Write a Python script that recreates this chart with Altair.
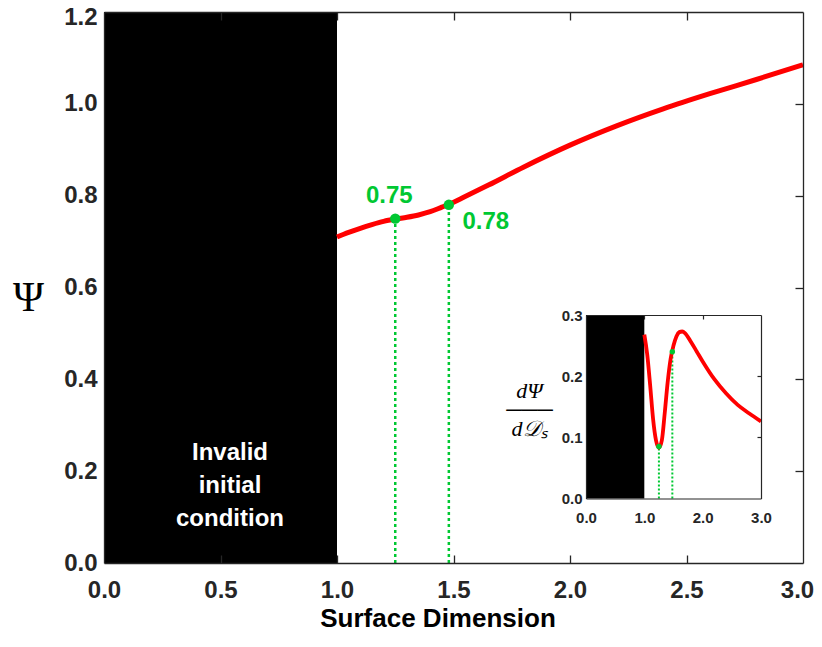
import altair as alt
import pandas as pd

# ---------------- data ----------------
psi_x = [1.00, 1.05, 1.10, 1.15, 1.20, 1.25, 1.30, 1.35, 1.40, 1.45, 1.48, 1.55, 1.65,
         1.80, 2.00, 2.20, 2.40, 2.60, 2.80, 3.00]
psi_y = [0.710, 0.720, 0.729, 0.737, 0.744, 0.749, 0.753, 0.758, 0.765, 0.775, 0.781,
         0.798, 0.823, 0.862, 0.910, 0.952, 0.989, 1.022, 1.053, 1.085]

dpsi_x = [1.00, 1.05, 1.10, 1.15, 1.20, 1.25, 1.30, 1.35, 1.40, 1.45, 1.50, 1.55, 1.60,
          1.65, 1.70, 1.80, 1.90, 2.00, 2.20, 2.40, 2.60, 2.80, 3.00]
dpsi_y = [0.268, 0.235, 0.185, 0.130, 0.095, 0.083, 0.095, 0.140, 0.190, 0.228, 0.250,
          0.265, 0.272, 0.273, 0.270, 0.256, 0.240, 0.224, 0.195, 0.172, 0.153, 0.139, 0.126]

mark_x = [1.25, 1.48]
mark_psi = [0.75, 0.78]
mark_dpsi = [0.085, 0.24]
mark_labels = ["0.75", "0.78"]

invalid_x = [0.0, 1.0]
invalid_text = "Invalid\ninitial\ncondition"

main_ticks_x = [0.0, 0.5, 1.0, 1.5, 2.0, 2.5, 3.0]
main_ticks_y = [0.0, 0.2, 0.4, 0.6, 0.8, 1.0, 1.2]
inset_ticks_x = [0.0, 1.0, 2.0, 3.0]
inset_ticks_y = [0.0, 0.1, 0.2, 0.3]

# ---------------- layout / style ----------------
W, H = 699, 551
TOP = 4
INS_X_RANGE = [482, 657]
INS_Y_RANGE = [486.5, 303]
FONT = "Liberation Sans"
DARK = "#262626"
GREEN = "#00c832"
RED = "#ff0000"

curve = pd.DataFrame({"x": psi_x, "y": psi_y})
dcurve = pd.DataFrame({"x": dpsi_x, "y": dpsi_y})
marks = pd.DataFrame({"x": mark_x, "y": mark_psi, "yd": mark_dpsi, "zero": [0.0, 0.0],
                      "label": mark_labels})
invalid_main = pd.DataFrame({"x0": [invalid_x[0]], "x1": [invalid_x[1]],
                             "y0": [main_ticks_y[0]], "y1": [main_ticks_y[-1]],
                             "xm": [sum(invalid_x) / 2], "t": [invalid_text]})
invalid_inset = pd.DataFrame({"x0": [invalid_x[0]], "x1": [invalid_x[1]],
                              "y0": [inset_ticks_y[0]], "y1": [inset_ticks_y[-1]]})
frame_main = pd.DataFrame({"x": [main_ticks_x[0], main_ticks_x[-1]],
                           "y": [main_ticks_y[0], main_ticks_y[-1]]})
frame_inset = pd.DataFrame({"x": [inset_ticks_x[0], inset_ticks_x[-1]],
                            "y": [inset_ticks_y[0], inset_ticks_y[-1]]})

mx = alt.Scale(domain=[main_ticks_x[0], main_ticks_x[-1]], nice=False, zero=False)
my = alt.Scale(domain=[main_ticks_y[0], main_ticks_y[-1]], nice=False, zero=False)
ix = alt.Scale(domain=[inset_ticks_x[0], inset_ticks_x[-1]], range=INS_X_RANGE, nice=False, zero=False)
iy = alt.Scale(domain=[inset_ticks_y[0], inset_ticks_y[-1]], range=INS_Y_RANGE, nice=False, zero=False)

ax_main_x = alt.Axis(orient="bottom", values=main_ticks_x, format=".1f", grid=False,
                     ticks=False, tickSize=0, domainColor=DARK, domainWidth=1.3,
                     labelFont=FONT, labelFontSize=24, labelFontWeight="bold",
                     labelColor=DARK, labelPadding=15, labelFlush=False, labelOverlap=False,
                     labelOffset={"condition": {"test": "datum.value >= 2.99", "value": -6},
                                  "value": 0},
                     title="Surface Dimension", titleFont=FONT, titleFontSize=26,
                     titleFontWeight="bold", titleColor="black", titleX=333.5, titleY=55,
                     titleAlign="center", titleBaseline="middle", zindex=1)
ax_main_y = alt.Axis(orient="left", values=main_ticks_y, format=".1f", grid=False,
                     ticks=False, tickSize=0, domainColor=DARK, domainWidth=1.3,
                     labelFont=FONT, labelFontSize=24, labelFontWeight="bold",
                     labelColor=DARK, labelPadding=7, labelFlush=False, labelOverlap=False,
                     labelOffset={"condition": {"test": "datum.value >= 1.19", "value": 5},
                                  "value": 0},
                     title="Ψ", titleFont="Liberation Serif", titleFontSize=42,
                     titleFontWeight="normal", titleColor="black", titleAngle=0,
                     titleX=-76, titleY=285, titleAlign="center", titleBaseline="middle",
                     zindex=1)


def MX(f):
    return alt.X(f, type="quantitative", scale=mx, axis=ax_main_x)


def MY(f):
    return alt.Y(f, type="quantitative", scale=my, axis=ax_main_y)


# ---------------- main panel ----------------
m_rect = alt.Chart(invalid_main).mark_rect(color="black").encode(
    x=MX("x0"), x2="x1", y=MY("y0"), y2="y1")
m_text = alt.Chart(invalid_main).mark_text(
    color="white", font=FONT, fontSize=24, fontWeight="bold", lineBreak="\n",
    lineHeight=33, align="center", baseline="middle", dx=9.5
).encode(x=MX("xm"), y=alt.value(441), text="t:N")
m_rules = alt.Chart(marks).mark_rule(color=GREEN, strokeWidth=2.5, strokeDash=[3, 3]).encode(
    x=MX("x"), y=MY("zero"), y2="y")
m_line = alt.Chart(curve).mark_line(color=RED, strokeWidth=5, interpolate="monotone").encode(
    x=MX("x"), y=MY("y"))
m_pts = alt.Chart(marks).mark_circle(color=GREEN, opacity=1, size=110).encode(
    x=MX("x"), y=MY("y"))
m_lab1 = alt.Chart(marks).transform_filter(alt.datum.label == mark_labels[0]).mark_text(
    color=GREEN, font=FONT, fontSize=24, fontWeight="bold", dx=-6, dy=-23
).encode(x=MX("x"), y=MY("y"), text="label:N")
m_lab2 = alt.Chart(marks).transform_filter(alt.datum.label == mark_labels[1]).mark_text(
    color=GREEN, font=FONT, fontSize=24, fontWeight="bold", dx=37, dy=17
).encode(x=MX("x"), y=MY("y"), text="label:N")
main_layer = alt.layer(m_rect, m_text, m_rules, m_line, m_pts, m_lab1, m_lab2)

# main frame: top & right edges with inward ticks
frame_b = alt.Chart(frame_main).mark_point(opacity=0).encode(
    x=alt.X("x:Q", scale=mx, axis=alt.Axis(orient="bottom", offset=-H, labels=False,
            values=main_ticks_x[1:-1], tickSize=8, tickColor=DARK, tickWidth=1.3,
            domainColor=DARK, domainWidth=1.3, grid=False, title=None, zindex=1)),
    y=alt.Y("y:Q", scale=my, axis=alt.Axis(orient="left", offset=-W, labels=False,
            values=main_ticks_y[1:-1], tickSize=8, tickColor=DARK, tickWidth=1.3,
            domainColor=DARK, domainWidth=1.3, grid=False, title=None, zindex=1)))
# main bottom edge inward ticks
frame_c = alt.Chart(frame_main).mark_point(opacity=0).encode(
    x=alt.X("x:Q", scale=mx, axis=alt.Axis(orient="top", offset=-H, labels=False,
            values=main_ticks_x[1:-1], tickSize=8, tickColor=DARK, tickWidth=1.3,
            domain=False, grid=False, title=None, zindex=1)),
    y=alt.Y("y:Q", scale=my, axis=None))

# ---------------- inset ----------------
ax_ins_x = alt.Axis(orient="bottom", offset=INS_Y_RANGE[0] - H, values=inset_ticks_x,
                    format=".1f", grid=False, ticks=False, tickSize=0, domainColor=DARK,
                    domainWidth=1.2, labelFont=FONT, labelFontSize=15, labelFontWeight="bold",
                    labelColor=DARK, labelPadding=12, labelFlush=False, labelOverlap=False,
                    title=None, zindex=1)
ax_ins_y = alt.Axis(orient="left", offset=-INS_X_RANGE[0], values=inset_ticks_y,
                    format=".1f", grid=False, ticks=False, tickSize=0, domainColor=DARK,
                    domainWidth=1.2, labelFont=FONT, labelFontSize=15, labelFontWeight="bold",
                    labelColor=DARK, labelPadding=4, labelFlush=False, labelOverlap=False,
                    title=["dΨ", "───", "d𝒟ₛ"], titleFont="Liberation Serif",
                    titleFontSize=22, titleFontStyle="italic", titleFontWeight="normal",
                    titleColor="black", titleAngle=0, titleLineHeight=19, titleX=-57,
                    titleY=378, titleAlign="center", titleBaseline="middle", zindex=1)


def IX(f):
    return alt.X(f, type="quantitative", scale=ix, axis=ax_ins_x)


def IY(f):
    return alt.Y(f, type="quantitative", scale=iy, axis=ax_ins_y)


i_rect = alt.Chart(invalid_inset).mark_rect(color="black").encode(
    x=IX("x0"), x2="x1", y=IY("y0"), y2="y1")
i_rules = alt.Chart(marks).mark_rule(color=GREEN, strokeWidth=2, strokeDash=[2, 2]).encode(
    x=IX("x"), y=IY("zero"), y2="yd")
i_line = alt.Chart(dcurve).mark_line(color=RED, strokeWidth=3.8, interpolate="monotone").encode(
    x=IX("x"), y=IY("y"))
i_pts = alt.Chart(marks).mark_circle(color=GREEN, opacity=1, size=30).encode(
    x=IX("x"), y=IY("yd"))
inset_layer = alt.layer(i_rect, i_rules, i_line, i_pts)

frame_e = alt.Chart(frame_inset).mark_point(opacity=0).encode(
    x=alt.X("x:Q", scale=ix, axis=alt.Axis(orient="bottom", offset=INS_Y_RANGE[1] - H,
            labels=False, values=inset_ticks_x[1:-1], tickSize=4, tickColor=DARK,
            tickWidth=1.2, domainColor=DARK, domainWidth=1.2, grid=False, title=None,
            zindex=1)),
    y=alt.Y("y:Q", scale=iy, axis=alt.Axis(orient="left", offset=-INS_X_RANGE[1],
            labels=False, values=inset_ticks_y[1:-1], tickSize=4, tickColor=DARK,
            tickWidth=1.2, domainColor=DARK, domainWidth=1.2, grid=False, title=None,
            zindex=1)))

chart = alt.layer(main_layer, frame_b, frame_c, inset_layer, frame_e).resolve_scale(
    x="independent", y="independent"
).properties(
    width=W, height=H,
    autosize=alt.AutoSizeParams(type="none"),
    padding={"left": 96, "top": TOP, "right": 11, "bottom": 68},
    background="white",
).configure_view(stroke=None)

chart.save("out.html", embed_options={"renderer": "svg", "actions": False})
